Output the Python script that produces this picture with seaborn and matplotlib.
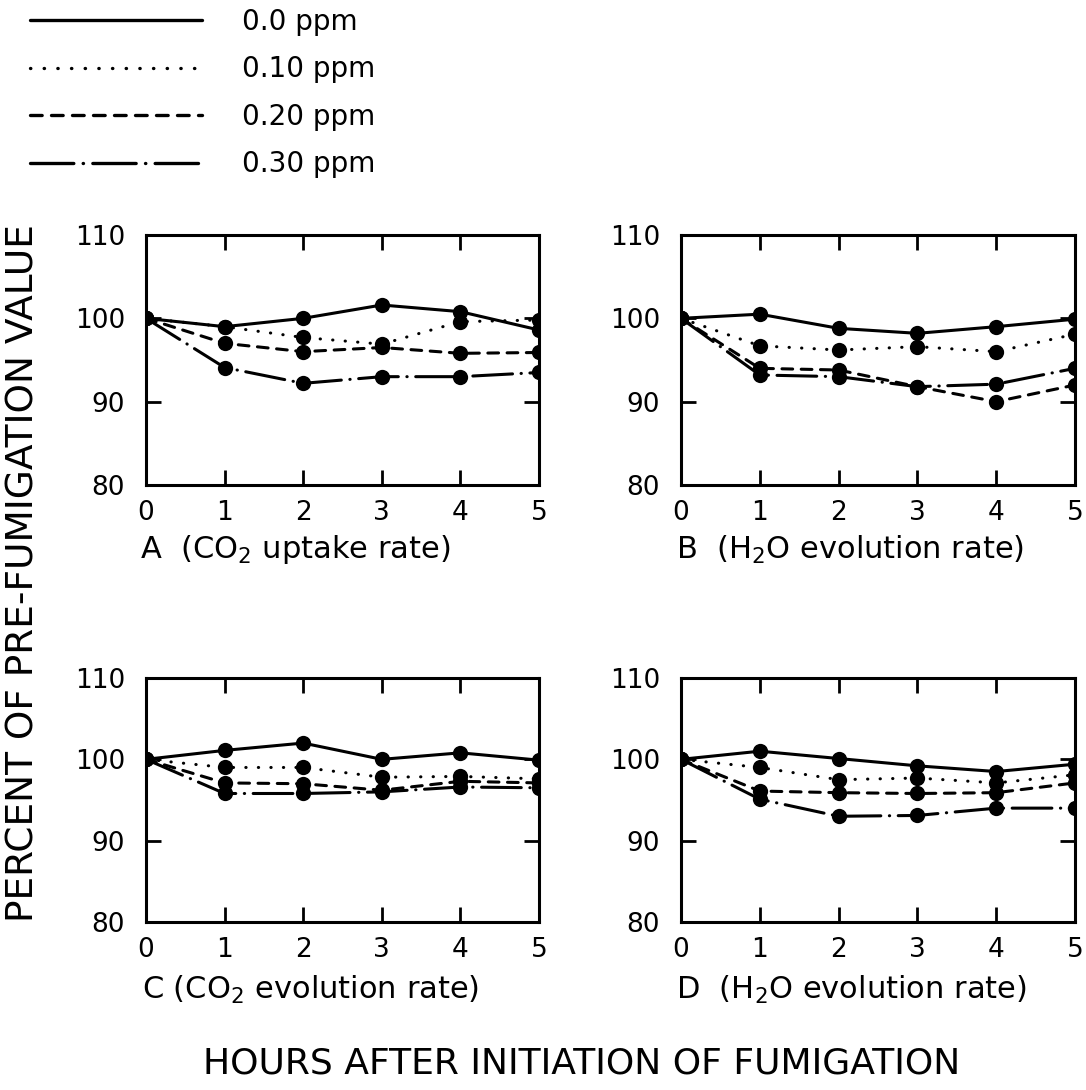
# Photosynthesis / transpiration response to fumigation - 4 panel figure

import numpy as np
import pandas as pd
import matplotlib.pyplot as plt
from matplotlib.lines import Line2D
import seaborn as sns

hours = [0, 1, 2, 3, 4, 5]
levels = ["0.0 ppm", "0.10 ppm", "0.20 ppm", "0.30 ppm"]

# A - CO2 uptake rate
a_000 = [100, 99.0, 100.0, 101.6, 100.8, 98.6]
a_010 = [100, 99.0, 97.7, 96.9, 99.6, 99.8]
a_020 = [100, 97.0, 96.0, 96.5, 95.8, 95.9]
a_030 = [100, 94.1, 92.2, 93.0, 93.0, 93.5]

# B - H2O evolution rate
b_000 = [100, 100.5, 98.8, 98.2, 99.0, 99.9]
b_010 = [100, 96.7, 96.2, 96.6, 96.0, 98.1]
b_020 = [100, 94.0, 93.8, 91.8, 90.0, 92.0]
b_030 = [100, 93.2, 93.0, 91.8, 92.1, 94.0]

# C - CO2 evolution rate
c_000 = [100, 101.1, 102.0, 100.0, 100.8, 99.9]
c_010 = [100, 99.0, 99.0, 97.8, 97.9, 97.6]
c_020 = [100, 97.1, 97.0, 96.2, 97.3, 97.1]
c_030 = [100, 95.8, 95.8, 96.0, 96.6, 96.5]

# D - H2O evolution rate
d_000 = [100, 101.0, 100.1, 99.2, 98.5, 99.4]
d_010 = [100, 99.0, 97.5, 97.7, 97.1, 98.1]
d_020 = [100, 96.1, 95.9, 95.8, 95.9, 97.1]
d_030 = [100, 95.1, 93.0, 93.1, 94.0, 94.0]

captions = ["A  (CO$_2$ uptake rate)", "B  (H$_2$O evolution rate)",
            "C (CO$_2$ evolution rate)", "D  (H$_2$O evolution rate)"]
panel_series = [[a_000, a_010, a_020, a_030],
                [b_000, b_010, b_020, b_030],
                [c_000, c_010, c_020, c_030],
                [d_000, d_010, d_020, d_030]]

sns.set_style("ticks", {"axes.edgecolor": "black", "text.color": "black",
                        "xtick.color": "black", "ytick.color": "black"})
plt.rcParams['font.family'] = ['DejaVu Sans']
plt.rcParams['mathtext.fontset'] = 'dejavusans'

W, H = 1086, 1090
fig = plt.figure(figsize=(W / 100, H / 100), dpi=100)

# axes boxes in pixels: left, right, top, bottom
boxes = [(146, 539, 235, 485), (681, 1075, 235, 485),
         (146, 539, 678, 922), (681, 1075, 678, 922)]
cap_pos = [(140, 550), (676, 550), (142, 990), (676, 990)]

dash_map = {"0.0 ppm": "", "0.10 ppm": (0.1, 4.0),
            "0.20 ppm": (3.5, 2.8), "0.30 ppm": (13, 2.8, 0.1, 2.8)}
marker_map = {lv: "o" for lv in levels}

for i, series in enumerate(panel_series):
    l, r, t, b = boxes[i]
    ax = fig.add_axes([l / W, 1 - b / H, (r - l) / W, (b - t) / H])
    df = pd.DataFrame({
        "hour": hours * 4,
        "pct": sum(series, []),
        "ppm": np.repeat(levels, len(hours)),
    })
    sns.lineplot(data=df, x="hour", y="pct", hue="ppm", style="ppm",
                 palette=["black"] * 4, dashes=dash_map, markers=marker_map,
                 markersize=11, markeredgewidth=0, linewidth=2.2,
                 dash_capstyle="round", legend=False, ax=ax)
    ax.set_xlim(0, 5)
    ax.set_ylim(80, 110)
    ax.set_xticks(hours)
    ax.set_yticks([80, 90, 100, 110])
    ax.set_xlabel("")
    ax.set_ylabel("")
    for s in ax.spines.values():
        s.set_visible(True)
        s.set_linewidth(2.2)
        s.set_color("black")
    ax.tick_params(direction="in", length=11, width=2, top=True, right=True,
                   labelsize=19, pad=15, colors="black")
    ax.tick_params(axis="x", pad=11)
    fig.text(cap_pos[i][0] / W, 1 - cap_pos[i][1] / H, captions[i],
             fontsize=22, ha="left", va="center")

fig.text(24 / W, 1 - 573 / H, "PERCENT OF PRE-FUMIGATION VALUE",
         rotation=90, fontsize=27, ha="center", va="center")
fig.text(582 / W, 1 - 1064 / H, "HOURS AFTER INITIATION OF FUMIGATION",
         fontsize=26, ha="center", va="center")

# legend in the top left corner, line styles only
handles = []
for lv in levels:
    h = Line2D([], [], color="black", lw=2.4, dash_capstyle="round")
    if dash_map[lv] != "":
        h.set_dashes(dash_map[lv])
    handles.append(h)
fig.legend(handles=handles, labels=levels, loc="upper left",
           bbox_to_anchor=(30 / W, 1 - 8 / H), frameon=False, fontsize=20,
           handlelength=6.2, handletextpad=1.45, labelspacing=0.7,
           borderpad=0, borderaxespad=0)

fig.savefig("out.png", dpi=100)
